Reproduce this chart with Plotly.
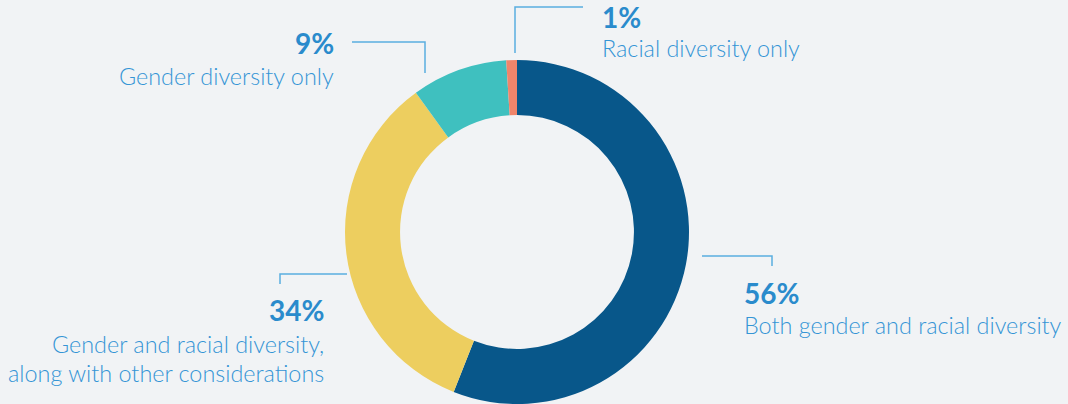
import plotly.graph_objects as go

# ---- data ----
categories = ["Both gender and racial diversity",
              "Gender and racial diversity, along with other considerations",
              "Gender diversity only",
              "Racial diversity only"]
values = [56, 34, 9, 1]
pct_labels = ["56%", "34%", "9%", "1%"]
colors = ["#08578a", "#edce5f", "#3fc0bf", "#f0856b"]

W, H = 1068, 404
BG = "#f1f3f5"
NUM_C = "#2a8bcc"
LBL_C = "#3595d5"
LINE_C = "#5aaee0"
FONT = "Lato"

def px(x):
    return x / W

def py(y):
    return 1 - y / H

fig = go.Figure(go.Pie(
    labels=categories, values=values, marker=dict(colors=colors, line=dict(width=0)),
    sort=False, direction="clockwise", rotation=0, hole=0.68,
    textinfo="none", hoverinfo="label+percent",
    domain=dict(x=[px(345), px(689)], y=[py(404), py(60)]),
    showlegend=False,
))

# leader lines (polyline paths in pixel coords)
leaders = [
    [(702, 256), (772, 256), (772, 266)],   # 56%
    [(347, 274), (280, 274), (280, 284)],   # 34%
    [(352, 42), (425, 42), (425, 73)],      # 9%
    [(583, 7), (515, 7), (515, 53)],        # 1%
]
shapes = []
for pts in leaders:
    path = "M " + " L ".join(f"{px(x)},{py(y)}" for x, y in pts)
    shapes.append(dict(type="path", path=path, xref="paper", yref="paper",
                       line=dict(color=LINE_C, width=1.5)))

place = [
    dict(x=742, ny=293, ly=[325], anchor="left"),
    dict(x=326, ny=310, ly=[344, 373], anchor="right"),
    dict(x=336, ny=43, ly=[76], anchor="right"),
    dict(x=600, ny=17, ly=[48], anchor="left"),
]
label_lines = [
    ["Both gender and racial diversity"],
    ["Gender and racial diversity,", "along with other considerations"],
    ["Gender diversity only"],
    ["Racial diversity only"],
]
annotations = []
for i, p in enumerate(place):
    annotations.append(dict(text=f"<b>{pct_labels[i]}</b>", x=px(p["x"]), y=py(p["ny"]),
                            xref="paper", yref="paper", xanchor=p["anchor"], yanchor="middle",
                            showarrow=False, font=dict(family=FONT, size=28, color=NUM_C)))
    for line, ly in zip(label_lines[i], p["ly"]):
        annotations.append(dict(text=line, x=px(p["x"]), y=py(ly),
                                xref="paper", yref="paper", xanchor=p["anchor"], yanchor="middle",
                                showarrow=False,
                                font=dict(family=FONT, size=23.4, weight=300, color=LBL_C)))

fig.update_layout(
    width=W, height=H, margin=dict(l=0, r=0, t=0, b=0),
    paper_bgcolor=BG, plot_bgcolor=BG,
    shapes=shapes, annotations=annotations,
)

fig.write_html("out.html", config={"displayModeBar": False},
               post_script="document.body.style.margin='0';document.body.style.overflow='hidden';")
